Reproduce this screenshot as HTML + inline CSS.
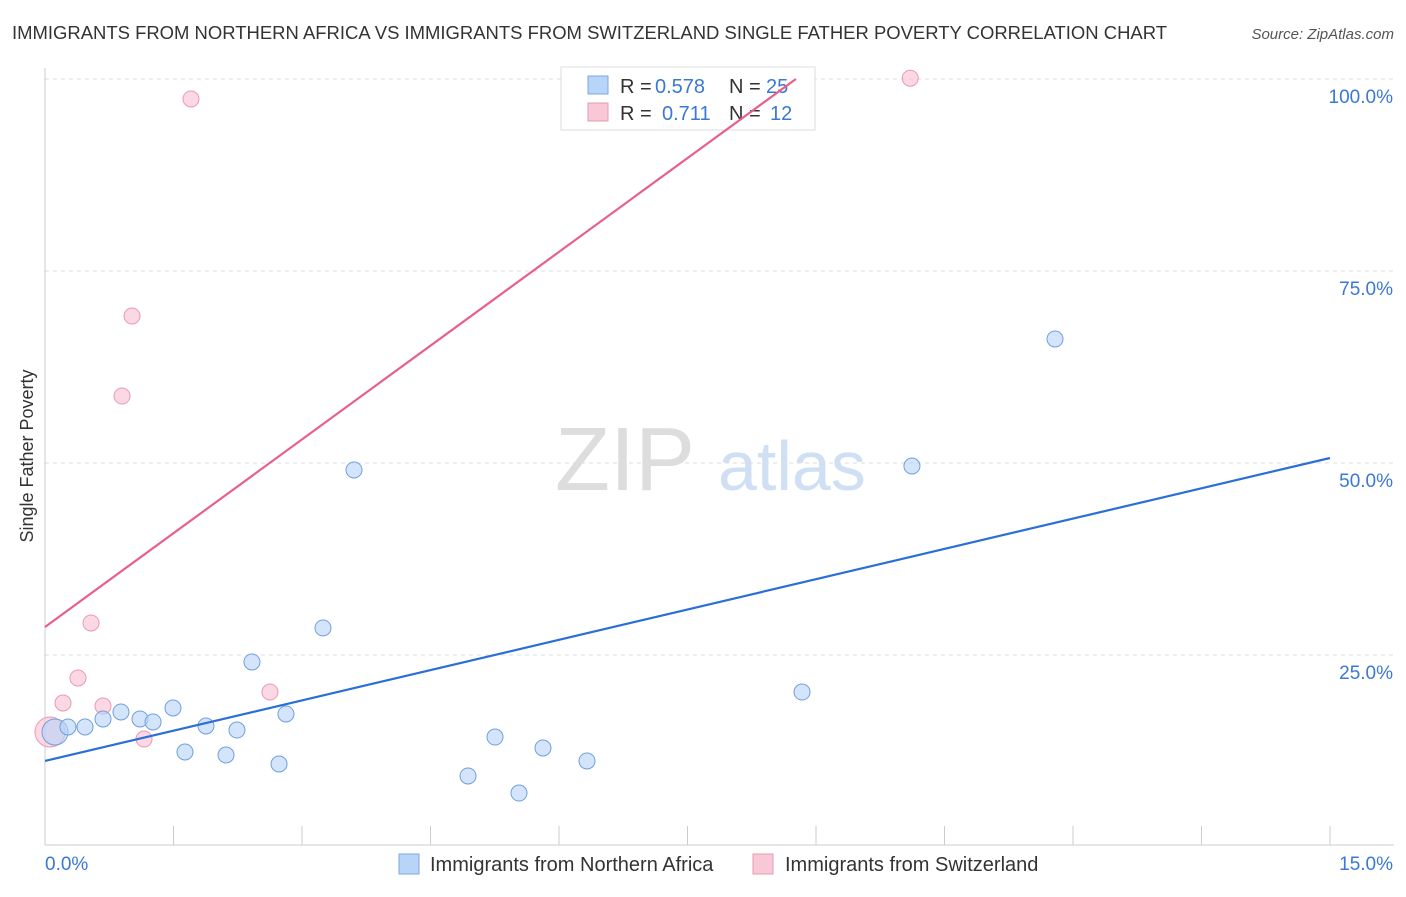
<!DOCTYPE html>
<html><head><meta charset="utf-8"><style>
body{margin:0;background:#fff;font-family:"Liberation Sans",sans-serif;}
svg text{font-family:"Liberation Sans",sans-serif;}
</style></head><body>
<svg id="c" width="1406" height="892">
<text x="12" y="39" font-size="18" fill="#333" textLength="1155" lengthAdjust="spacingAndGlyphs">IMMIGRANTS FROM NORTHERN AFRICA VS IMMIGRANTS FROM SWITZERLAND SINGLE FATHER POVERTY CORRELATION CHART</text>
<text x="1394" y="39" font-size="15" fill="#555" font-style="italic" text-anchor="end">Source: ZipAtlas.com</text>
<text x="33" y="456" font-size="18" fill="#333" text-anchor="middle" transform="rotate(-90 33 456)">Single Father Poverty</text>
<text x="555" y="490" font-size="90" fill="#ddd" font-family="Liberation Serif">ZIP</text>
<text x="718" y="490" font-size="70" fill="#cfe0f5">atlas</text>
<g id="grid"></g><g id="pts"></g>
<g>
<rect x="561" y="67" width="254" height="63" fill="#fff" stroke="#ddd"/>
<rect x="588" y="76" width="20" height="18" fill="#b8d4f8" stroke="#7aa7e3"/>
<text x="620" y="93" font-size="20" fill="#333">R =</text>
<text x="655" y="93" font-size="20" fill="#3a78d4">0.578</text>
<text x="729" y="93" font-size="20" fill="#333">N =</text>
<text x="766" y="93" font-size="20" fill="#3a78d4">25</text>
<rect x="588" y="103" width="20" height="18" fill="#f9c8d6" stroke="#e99ab2"/>
<text x="620" y="120" font-size="20" fill="#333">R =</text>
<text x="662" y="120" font-size="20" fill="#3a78d4">0.711</text>
<text x="729" y="120" font-size="20" fill="#333">N =</text>
<text x="770" y="120" font-size="20" fill="#3a78d4">12</text>
</g>
<g id="lines"></g>
<g>
<rect x="399" y="854" width="20" height="20" fill="#b8d4f8" stroke="#7aa7e3"/>
<text x="430" y="871" font-size="20" fill="#333">Immigrants from Northern Africa</text>
<rect x="753" y="854" width="20" height="20" fill="#f9c8d6" stroke="#e99ab2"/>
<text x="785" y="871" font-size="20" fill="#333">Immigrants from Switzerland</text>
</g>
</svg>
<script>
const blueX=[0.117,0.268,0.467,0.677,0.887,1.109,1.261,1.494,1.634,1.879,2.113,2.241,2.416,2.732,2.813,3.245,3.607,4.938,5.253,5.533,5.813,6.327,8.837,10.12,11.79];
const blueY=[14.97,15.63,15.63,16.67,17.58,16.67,16.28,18.1,12.37,15.76,11.98,15.23,24.09,10.81,17.32,28.52,49.09,9.25,14.32,7.03,12.89,11.2,20.18,49.61,66.15];
const pinkX=[0.058,0.21,0.385,0.537,0.677,0.899,1.016,1.156,1.704,2.626,7.18,10.1];
const pinkY=[14.97,18.75,22.01,29.17,18.36,58.72,69.14,14.06,97.4,20.18,100,100.1];
const blueLine=[11.2,2.63];   // intercept, slope
const pinkLine=[28.65,8.14];
const yTicks=[25,50,75,100];
const yTickLabels=["25.0%","50.0%","75.0%","100.0%"];
const xTicks=[0,1.5,3,4.5,6,7.5,9,10.5,12,13.5,15];
const X=v=>45+v/15*1285, Y=v=>847-v/25*192;
const NS="http://www.w3.org/2000/svg";
function mk(p,t,a){const e=document.createElementNS(NS,t);for(const k in a)e.setAttribute(k,a[k]);document.getElementById(p).appendChild(e);return e;}
yTicks.forEach((t,i)=>{
 const l=mk('grid','line',{x1:45,x2:1394,y1:Y(t),y2:Y(t),stroke:'#ddd','stroke-dasharray':'4,4'});
 
 
 const tx=mk('grid','text',{x:1393,y:Y(t)+24,'font-size':19,fill:'#3a78d4','text-anchor':'end'});
 tx.textContent=yTickLabels[i];
 
 
});
let ax=mk('grid','line',{x1:45,x2:45,y1:68,y2:845,stroke:'#ccc'});


ax=mk('grid','line',{x1:45,x2:1394,y1:845,y2:845,stroke:'#ccc'});


xTicks.forEach(t=>{const l=mk('grid','line',{x1:X(t),x2:X(t),y1:826,y2:845,stroke:'#ccc'});
 
 });
let t0=mk('grid','text',{x:45,y:870,'font-size':19,fill:'#3a78d4'});t0.textContent="0.0%";


t0=mk('grid','text',{x:1393,y:870,'font-size':19,fill:'#3a78d4','text-anchor':'end'});t0.textContent="15.0%";


let bl=mk('lines','line',{x1:X(0),y1:Y(blueLine[0]),x2:X(15),y2:Y(blueLine[0]+15*blueLine[1]),stroke:'#2a6fd6','stroke-width':2.2});


const pe=(100-pinkLine[0])/pinkLine[1];
let pl=mk('lines','line',{x1:X(0),y1:Y(pinkLine[0]),x2:X(pe),y2:Y(100),stroke:'#e8608a','stroke-width':2.2});


pinkX.forEach((x,i)=>{const c=mk('pts','circle',{cx:X(x),cy:Y(pinkY[i]),r:i==0?15:8,fill:'rgba(249,190,208,0.6)',stroke:'#e99ab2'});
 
 });
blueX.forEach((x,i)=>{const c=mk('pts','circle',{cx:X(x),cy:Y(blueY[i]),r:i==0?13:8,fill:'rgba(184,212,248,0.6)',stroke:'#6f9fdf'});
 
 });
</script>
</body></html>
